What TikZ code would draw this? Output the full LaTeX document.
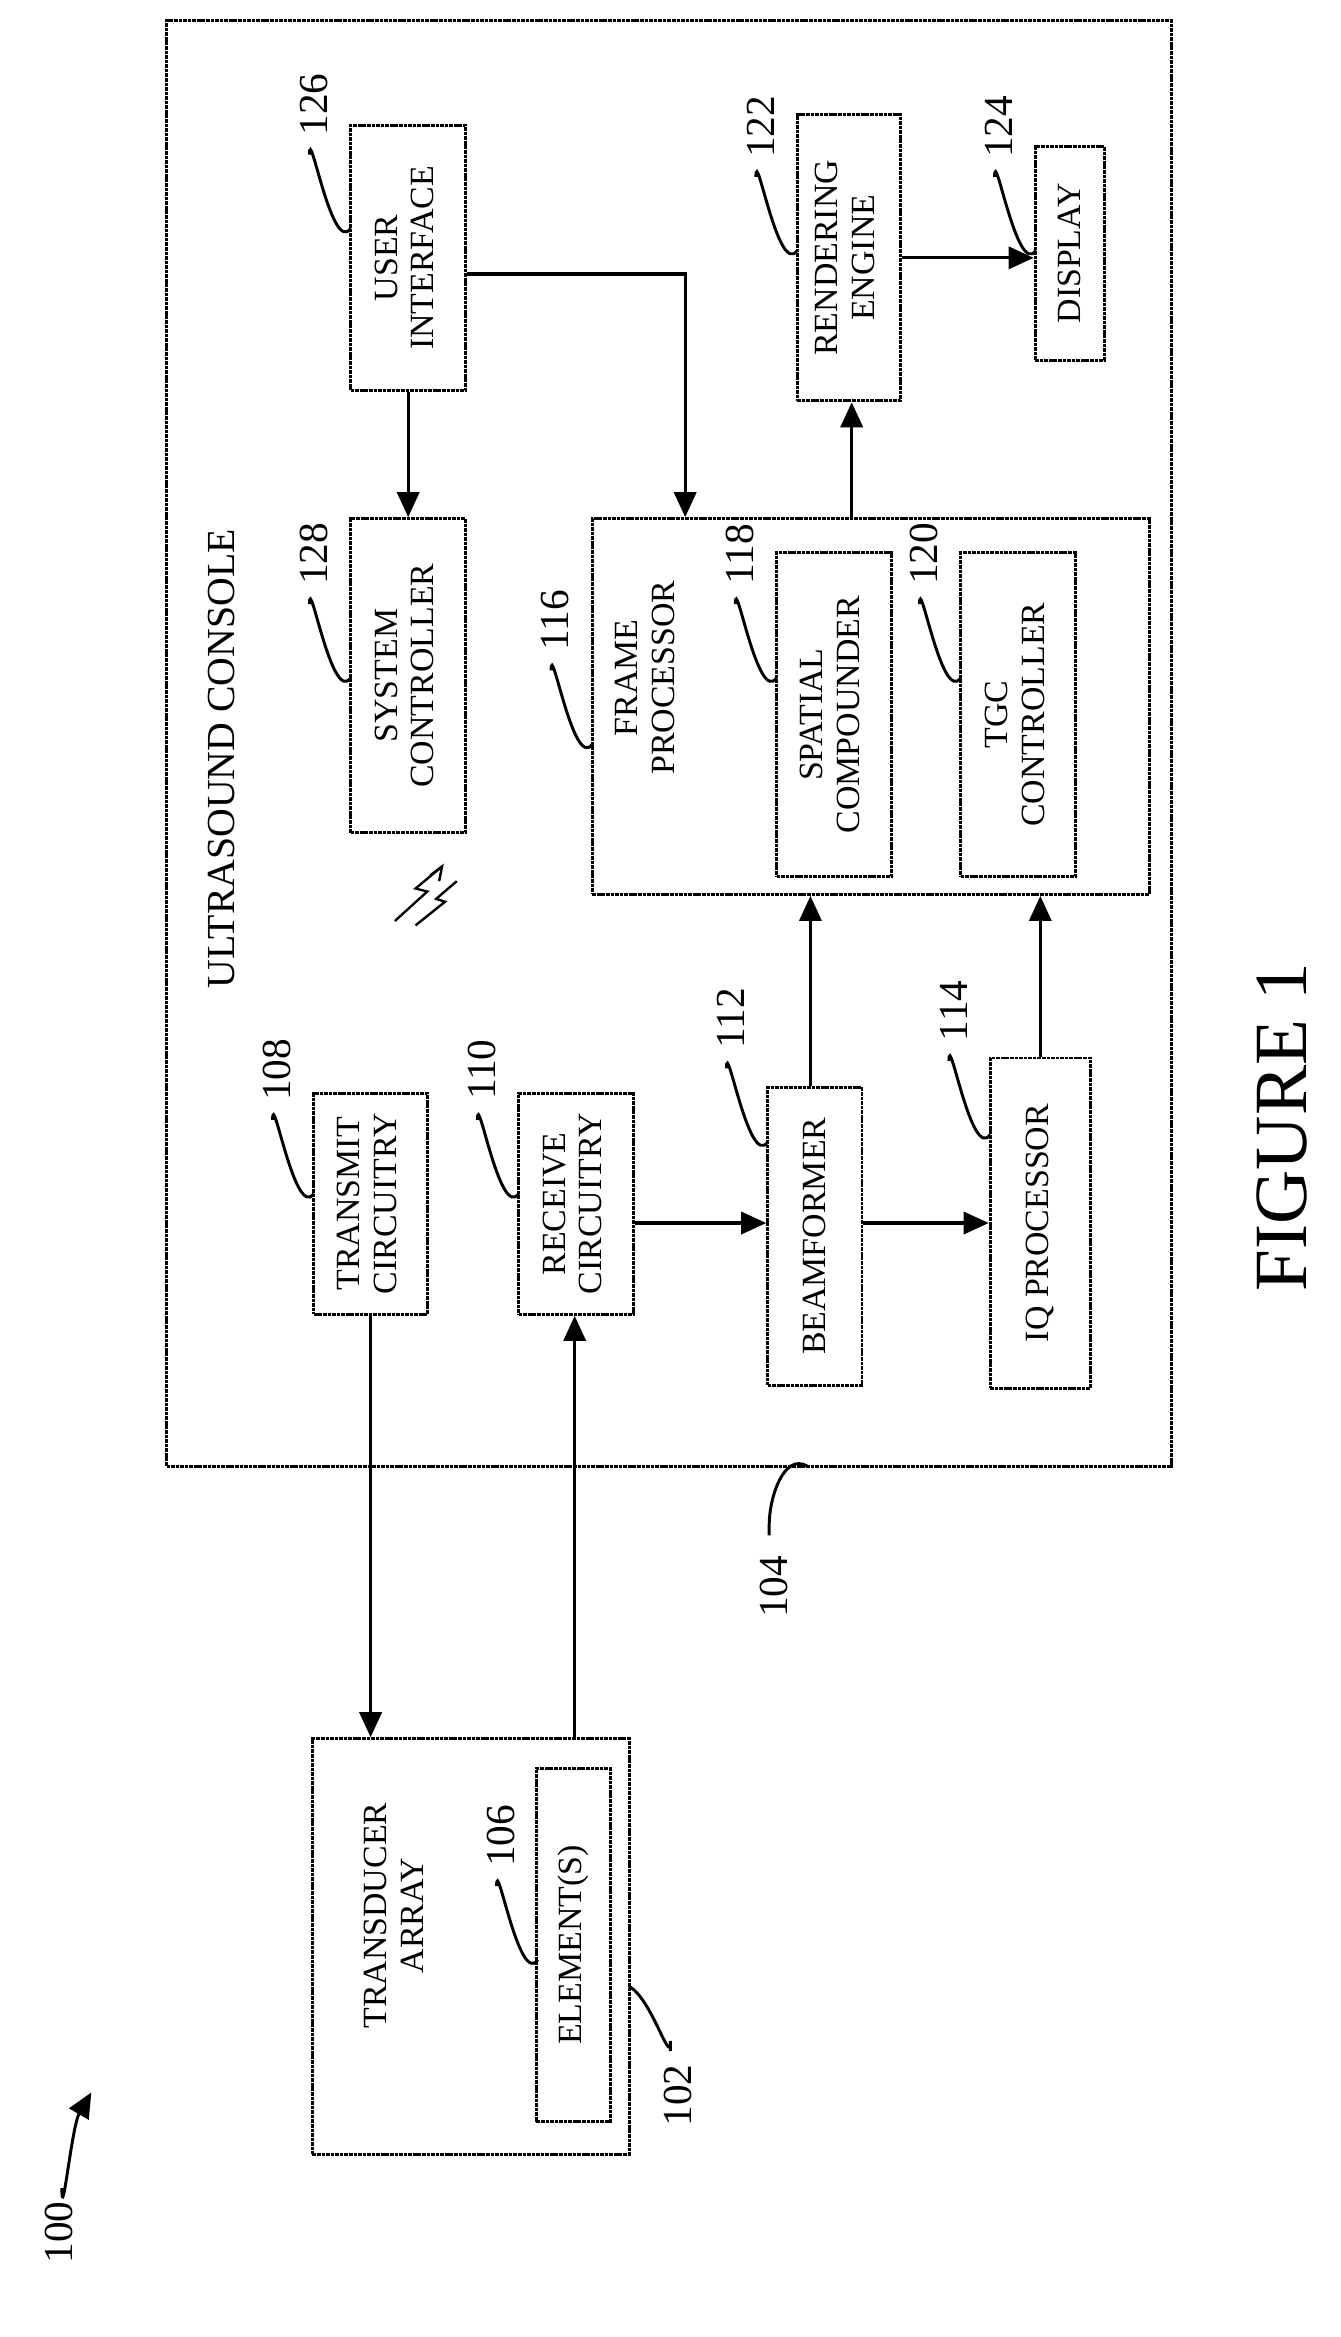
\documentclass[tikz,border=0pt]{standalone}
\usepackage{fontspec}
\setmainfont{Liberation Serif}
\usetikzlibrary{arrows.meta}
\begin{document}
\begin{tikzpicture}[x=1pt,y=-1pt,
  box/.style={draw,line width=2pt,dash pattern=on 2.5pt off 0.6pt,inner sep=0pt,font=\fontsize{23}{25}\selectfont},
  arr/.style={line width=2.2pt,-{Triangle[length=17pt,width=15pt]}},
  lead/.style={line width=2pt},
  num/.style={font=\fontsize{28}{30}\selectfont,rotate=90}]
\useasboundingbox (0,0) rectangle (910,1586);
\newcommand{\twol}[2]{\rotatebox{90}{\begin{tabular}{@{}c@{}}#1\\#2\end{tabular}}}
\newcommand{\lbl}[3]{% end x, end y, number
  \draw[lead] (#1-28,#2-50) to[out=90,in=-125] (#1,#2);
  \node[num] at (#1-25,#2-84) {#3};}
% console
\node[box,minimum width=682pt,minimum height=981pt] (con) at (454,504.5) {};
\node[font=\fontsize{27}{29}\selectfont,rotate=90] (ct) at (150,515) {ULTRASOUND CONSOLE};
% boxes
\node[box,minimum width=77pt,minimum height=150pt] (tx) at (251.5,817) {\twol{TRANSMIT}{CIRCUITRY}};
\node[box,minimum width=78pt,minimum height=150pt] (rx) at (391,817) {\twol{RECEIVE}{CIRCUITRY}};
\node[box,minimum width=64pt,minimum height=202pt] (bf) at (553,839) {\rotatebox{90}{BEAMFORMER}};
\node[box,minimum width=68pt,minimum height=224pt] (iq) at (706,830) {\rotatebox{90}{IQ PROCESSOR}};
\node[box,minimum width=378pt,minimum height=255pt] (fp) at (591,479.5) {};
\node[font=\fontsize{23}{25}\selectfont] (fpt) at (440,460) {\twol{FRAME}{PROCESSOR}};
\node[box,minimum width=78pt,minimum height=220pt] (sc) at (566,485) {\twol{SPATIAL}{COMPOUNDER}};
\node[box,minimum width=78pt,minimum height=220pt] (tgc) at (691,485) {\twol{TGC}{CONTROLLER}};
\node[box,minimum width=78pt,minimum height=213pt] (sys) at (277,458.5) {\twol{SYSTEM}{CONTROLLER}};
\node[box,minimum width=78pt,minimum height=180pt] (ui) at (277,175) {\twol{USER}{INTERFACE}};
\node[box,minimum width=70pt,minimum height=194pt] (re) at (576,175) {\twol{RENDERING}{ENGINE}};
\node[box,minimum width=47pt,minimum height=145pt] (dp) at (726,172) {\rotatebox{90}{DISPLAY}};
\node[box,minimum width=215pt,minimum height=282pt] (ta) at (319.5,1321) {};
\node[font=\fontsize{23}{25}\selectfont] (tat) at (270,1300) {\twol{TRANSDUCER}{ARRAY}};
\node[box,minimum width=50pt,minimum height=240pt] (el) at (389,1320) {\rotatebox{90}{ELEMENT(S)}};
% arrows
\draw[arr] (tx.south) -- (tx.south |- ta.north);
\draw[arr] (ta.north -| 390,0) -- (rx.south -| 390,0);
\draw[arr] (rx.east |- 0,830) -- (bf.west |- 0,830);
\draw[arr] (bf.east |- 0,830) -- (iq.west |- 0,830);
\draw[arr] (bf.north -| 550,0) -- (fp.south -| 550,0);
\draw[arr] (iq.north) -- (iq.north |- fp.south);
\draw[arr] (ui.south) -- (sys.north);
\draw[arr] (ui.east |- 0,186) -| (fp.north -| 465,0);
\draw[arr] (fp.north -| 578,0) -- (re.south -| 578,0);
\draw[arr] (re.east |- 0,175) -- (dp.west |- 0,175);
% labels
\lbl{238}{155}{126}
\lbl{238}{460}{128}
\lbl{541}{170}{122}
\lbl{703}{170}{124}
\lbl{402}{505}{116}
\lbl{527}{460}{118}
\lbl{652}{460}{120}
\lbl{213}{810}{108}
\lbl{352}{810}{110}
\lbl{521}{775}{112}
\lbl{672}{770}{114}
\lbl{365}{1330}{106}
\draw[lead] (427,1348) to[out=-30,in=-90] (455,1385) -- (455,1392);
\node[num] at (460,1422) {102};
\draw[lead] (548,995) to[out=150,in=90] (522,1035) -- (522,1042);
\node[num] at (525,1077) {104};
\node[num] at (40,1515) {100};
\draw[line width=2pt,-{Triangle[length=17pt,width=15pt]}] (42,1485) to[out=-90,in=-120] (62,1420);
% wireless symbol
\draw[line width=1.6pt] (268,625) -- (290,605) -- (282,603) -- (300,588);
\draw[line width=1.6pt] (282,628) -- (302,612) -- (296,610) -- (310,598);
\draw[line width=1.6pt] (292,594) -- (300,588) -- (298,598);
% figure
\node[font=\fontsize{51}{55}\selectfont,rotate=90] at (870,765) {FIGURE 1};
\end{tikzpicture}
\end{document}
